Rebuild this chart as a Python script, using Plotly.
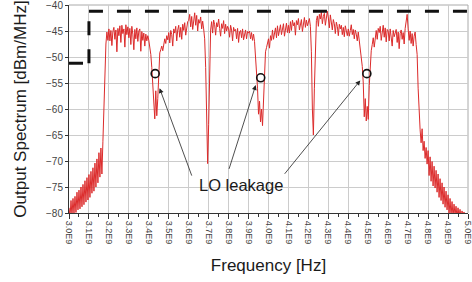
import plotly.graph_objects as go

# ---------------- data ----------------
freq_start_hz = 3.0e9
freq_step_hz = 5.0e6

# output spectrum [dBm/MHz], one value every 5 MHz from 3.000 GHz (rows of 0.1 GHz)
spectrum_dbm = [
    -79.0, -80.8, -77.6, -80.5, -77.2, -80.1, -76.8, -79.9, -76.0, -79.4, -75.6, -79.2, -75.0, -78.8, -74.5, -78.4, -73.8, -77.9, -73.2, -77.5,
    -72.6, -77.0, -72.0, -76.2, -71.3, -75.8, -70.4, -75.0, -69.6, -74.2, -68.4, -73.1, -67.5, -72.5, -66.2, -58.0, -52.0, -47.5, -45.2, -46.8,
    -44.6, -46.9, -44.9, -47.8, -45.1, -44.3, -46.6, -44.8, -49.0, -44.5, -45.9, -44.0, -47.2, -43.9, -45.5, -44.6, -48.1, -43.8, -45.7, -44.2,
    -46.3, -44.5, -47.6, -44.1, -45.6, -48.6, -44.7, -46.5, -44.4, -47.0, -45.0, -44.6, -48.9, -45.1, -46.8, -45.4, -47.9, -45.6, -46.9, -45.9,
    -46.8, -47.9, -49.5, -52.0, -55.5, -59.8, -61.9, -56.5, -61.3, -58.0, -51.5, -49.2, -48.6, -47.9, -48.8, -47.2, -46.5, -47.4, -45.9, -46.7,
    -45.3, -47.3, -44.9, -45.7, -47.9, -44.6, -45.4, -44.1, -46.9, -44.8, -43.9, -46.2, -44.3, -46.6, -43.7, -44.9, -43.4, -45.8, -44.0, -43.2,
    -43.0, -41.8, -44.2, -42.2, -44.7, -42.5, -41.5, -43.9, -42.0, -45.0, -42.8, -43.5, -42.3, -44.6, -43.1, -44.6, -46.5, -52.0, -62.0, -70.5,
    -63.0, -51.0, -44.8, -43.2, -45.4, -42.9, -43.8, -45.8, -43.4, -44.2, -42.7, -44.5, -46.0, -43.6, -44.5, -43.0, -45.5, -43.7, -45.0, -44.1,
    -44.6, -46.2, -43.9, -44.8, -46.9, -44.3, -45.0, -44.7, -46.5, -44.5, -47.2, -45.2, -44.9, -46.3, -44.6, -46.7, -45.3, -44.8, -46.5, -45.1,
    -45.4, -45.0, -46.5, -45.3, -46.8, -45.6, -47.0, -49.5, -52.5, -56.0, -61.0, -58.5, -62.5, -60.0, -63.2, -57.5, -52.0, -49.0, -48.2, -47.3,
    -46.5, -48.3, -45.9, -46.8, -44.8, -46.6, -45.1, -44.4, -46.3, -44.0, -45.9, -44.6, -43.8, -45.7, -44.2, -43.6, -46.0, -44.0, -43.5, -45.3,
    -43.9, -45.4, -43.2, -44.9, -42.9, -44.0, -43.4, -45.8, -43.0, -43.8, -42.6, -44.8, -43.3, -42.8, -45.1, -43.1, -42.4, -44.3, -42.9, -44.0,
    -43.2, -42.6, -44.1, -49.0, -60.0, -65.0, -56.0, -46.5, -43.0, -42.1, -44.1, -41.8, -42.7, -41.4, -43.6, -42.2, -41.6, -43.9, -42.0, -41.2,
    -42.5, -44.4, -41.9, -43.0, -44.8, -42.8, -43.6, -45.5, -43.3, -44.1, -45.9, -43.7, -44.6, -43.9, -45.7, -44.3, -46.1, -44.0, -44.8, -45.9,
    -44.6, -46.0, -44.9, -43.8, -45.7, -44.7, -46.5, -44.8, -45.6, -46.9, -45.2, -46.8, -48.0, -49.5, -51.8, -55.0, -61.5, -58.0, -62.3, -59.5,
    -62.0, -55.5, -51.0, -48.8, -47.6, -46.3, -48.1, -45.8, -44.9, -46.6, -44.5, -45.3, -44.1, -46.8, -44.8, -43.9, -46.2, -44.4, -47.1, -44.7,
    -45.0, -46.9, -44.6, -45.8, -47.9, -44.9, -46.1, -45.4, -44.7, -47.2, -45.2, -48.4, -45.5, -44.8, -46.6, -45.3, -47.5, -44.5, -43.2, -41.8,
    -44.6, -46.8, -45.0, -47.4, -45.5, -47.9, -46.0, -45.2, -47.6, -49.5, -56.0, -61.5, -64.0, -66.5, -63.8, -68.0, -66.2, -69.5, -67.4, -70.6,
    -68.0, -72.8, -69.2, -73.9, -70.1, -74.8, -71.0, -75.2, -71.8, -76.0, -72.5, -77.0, -73.4, -77.6, -74.2, -78.3, -75.0, -78.9, -75.8, -79.4,
    -76.5, -80.2, -77.2, -80.6, -77.8, -80.8, -78.3, -80.5, -78.7, -80.9, -79.0, -80.7, -79.3, -80.8, -79.6, -80.5, -79.8, -80.9, -80.2, -80.6,
    -80.5,
]
freq_hz = [freq_start_hz + i * freq_step_hz for i in range(len(spectrum_dbm))]

# spectral mask (dashed), three segments
mask_freq_hz = [3.0e9, 3.1e9, None, 3.1e9, 3.1e9, None, 3.1e9, 5.0e9]
mask_level_dbm = [-51.2, -51.2, None, -51.2, -41.2, None, -41.2, -41.2]

# LO leakage markers
lo_freq_hz = [3.432e9, 3.961e9, 4.493e9]
lo_level_dbm = [-53.2, -54.0, -53.2]

# arrow heads / tails for the "LO leakage" annotation
arrow_head_freq_hz = [3.454e9, 3.936e9, 4.460e9]
arrow_head_dbm = [-56.0, -55.4, -54.5]
arrow_tail_freq_hz = [3.618e9, 3.800e9, 4.075e9]
arrow_tail_dbm = [-73.1, -71.8, -72.75]
label_text = "LO leakage"
label_freq_hz = 3.861e9
label_dbm = -74.7

x_tick_vals = [3.0e9 + k * 1e8 for k in range(21)]
x_tick_text = ["3.0E9", "3.1E9", "3.2E9", "3.3E9", "3.4E9", "3.5E9", "3.6E9", "3.7E9", "3.8E9", "3.9E9",
               "4.0E9", "4.1E9", "4.2E9", "4.3E9", "4.4E9", "4.5E9", "4.6E9", "4.7E9", "4.8E9", "4.9E9", "5.0E9"]
y_tick_vals = [-80, -75, -70, -65, -60, -55, -50, -45, -40]

x_title = "Frequency [Hz]"
y_title = "Output Spectrum [dBm/MHz]"

# ---------------- figure ----------------
FONT = "Liberation Sans, Arial, sans-serif"

fig = go.Figure()
fig.add_trace(go.Scatter(
    x=freq_hz, y=spectrum_dbm, mode="lines",
    line=dict(color="#dc2b2b", width=1), hoverinfo="skip", showlegend=False,
))
fig.add_trace(go.Scatter(
    x=mask_freq_hz, y=mask_level_dbm, mode="lines", connectgaps=False,
    line=dict(color="#111111", width=3, dash="14px,14px"), showlegend=False, hoverinfo="skip",
))
fig.add_trace(go.Scatter(
    x=lo_freq_hz, y=lo_level_dbm, mode="markers",
    marker=dict(symbol="circle-open", size=8, color="#111111", line=dict(width=1.6, color="#111111")),
    showlegend=False, hoverinfo="skip",
))

for hx, hy, tx, ty in zip(arrow_head_freq_hz, arrow_head_dbm, arrow_tail_freq_hz, arrow_tail_dbm):
    fig.add_annotation(
        x=hx, y=hy, ax=tx, ay=ty, xref="x", yref="y", axref="x", ayref="y",
        showarrow=True, arrowhead=2, arrowsize=1.2, arrowwidth=0.8, arrowcolor="#222222", text="",
    )
fig.add_annotation(
    x=label_freq_hz, y=label_dbm, xref="x", yref="y", text=label_text, showarrow=False,
    font=dict(family=FONT, size=16.5, color="#1a1a1a"),
)

fig.update_layout(
    width=472, height=282,
    margin=dict(l=69, r=4, t=5, b=69),
    paper_bgcolor="white", plot_bgcolor="white",
    font=dict(family=FONT, color="#333333"),
    showlegend=False,
)
fig.update_xaxes(
    range=[3.0e9, 5.0e9], automargin=False, ticklabeloverflow="allow",
    tickvals=x_tick_vals, ticktext=x_tick_text, tickangle=90,
    tickfont=dict(size=9, color="#444444"),
    ticks="outside", ticklen=5, tickcolor="#333333",
    minor=dict(dtick=5e7, tick0=3.0e9, ticks="outside", ticklen=3, tickcolor="#333333", showgrid=False),
    showgrid=True, gridcolor="#cccccc", gridwidth=1,
    showline=True, linecolor="#333333", linewidth=1, mirror=False,
    zeroline=False,
    title=dict(text=x_title, font=dict(family=FONT, size=17, color="#1a1a1a")),
)
fig.update_yaxes(
    range=[-80, -40], automargin=False, ticklabeloverflow="allow",
    tickvals=y_tick_vals,
    tickfont=dict(size=10, color="#444444"),
    ticks="outside", ticklen=3, tickcolor="#333333",
    showgrid=True, gridcolor="#cccccc", gridwidth=1,
    showline=True, linecolor="#333333", linewidth=1,
    zeroline=False,
    title=dict(text=y_title, font=dict(family=FONT, size=17, color="#1a1a1a")),
)
# light frame on top and right
fig.add_shape(type="line", xref="paper", yref="paper", x0=0, x1=1, y0=1, y1=1,
              line=dict(color="#aaaaaa", width=1), layer="below")
fig.add_shape(type="line", xref="paper", yref="paper", x0=1, x1=1, y0=0, y1=1,
              line=dict(color="#aaaaaa", width=1), layer="below")

fig.write_html(
    "out.html",
    config={"displayModeBar": False, "staticPlot": True},
    post_script="document.body.style.margin='0';document.body.style.overflow='hidden';",
)
